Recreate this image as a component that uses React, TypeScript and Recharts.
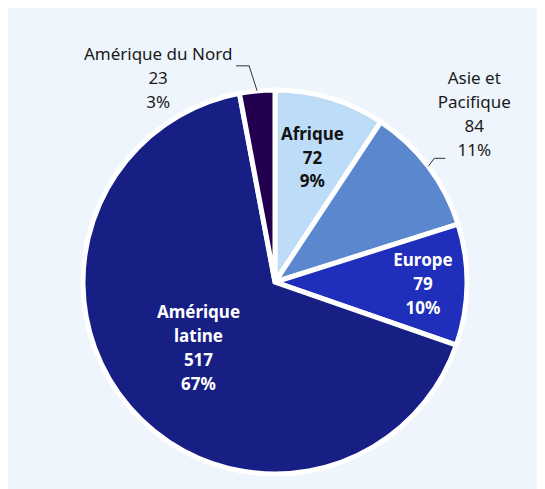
import React from 'react';
import { PieChart, Pie, Cell } from 'recharts';

// Répartition par région
const regions = ['Afrique', 'Asie et Pacifique', 'Europe', 'Amérique latine', 'Amérique du Nord'];
const counts = [72, 84, 79, 517, 23];
const labelLines = [['Afrique'], ['Asie et', 'Pacifique'], ['Europe'], ['Amérique', 'latine'], ['Amérique du Nord']];

const sliceColors = ['#bddcf7', '#5a87cd', '#1f2ebb', '#171f84', '#22004f'];

// how each label is placed: inside at a radius, or outside with a leader line
const labelLayout: any[] = [
  { inside: true, r: 130, color: '#111111' },
  { inside: false, elbow: [6, -8], run: 11, textDx: 29, textDy: -74 },
  { inside: true, r: 148, color: '#ffffff' },
  { inside: true, r: 101, color: '#ffffff' },
  { inside: false, elbow: [-8, -25], run: -13, textDx: -78, textDy: -5.5 },
];

const data = regions.map((name, i) => ({ name, value: counts[i] }));

const FONT = 17;
const LH = 23.8;
const RAD = Math.PI / 180;

const renderLabel = (props: any) => {
  const { cx, cy, midAngle, outerRadius, percent, index, value } = props;
  const cos = Math.cos(-midAngle * RAD);
  const sin = Math.sin(-midAngle * RAD);
  const lines = [...labelLines[index], String(value), `${Math.round(percent * 100)}%`];
  const cfg = labelLayout[index];

  if (cfg.inside) {
    const x = cx + cfg.r * cos;
    const y = cy + cfg.r * sin;
    const top = y - ((lines.length - 1) / 2) * LH + FONT * 0.36;
    return (
      <text textAnchor="middle" fill={cfg.color} fontWeight={700} fontSize={FONT}>
        {lines.map((t, i) => (
          <tspan key={i} x={x} y={top + i * LH}>{t}</tspan>
        ))}
      </text>
    );
  }

  const x1 = cx + outerRadius * cos;
  const y1 = cy + outerRadius * sin;
  const x2 = x1 + cfg.elbow[0];
  const y2 = y1 + cfg.elbow[1];
  const x3 = x2 + cfg.run;
  const tx = x3 + cfg.textDx;
  const ty = y2 + cfg.textDy;
  return (
    <g>
      <polyline points={`${x1},${y1} ${x2},${y2} ${x3},${y2}`} fill="none" stroke="#333333" strokeWidth={1} />
      <text textAnchor="middle" fill="#1a1a1a" fontSize={FONT}>
        {lines.map((t, i) => (
          <tspan key={i} x={tx} y={ty + i * LH}>{t}</tspan>
        ))}
      </text>
    </g>
  );
};

export default function App() {
  return (
    <div style={{ width: 537, height: 481, background: '#eef5fc', fontFamily: '"Noto Sans", sans-serif' }}>
      <PieChart width={537} height={481} margin={{ top: 0, right: 0, bottom: 0, left: 0 }}>
        <Pie
          data={data}
          dataKey="value"
          nameKey="name"
          cx={267}
          cy={274}
          outerRadius={192}
          startAngle={90}
          endAngle={-270}
          stroke="#ffffff"
          strokeWidth={5}
          label={renderLabel}
          labelLine={false}
          isAnimationActive={false}
        >
          {data.map((d, i) => (
            <Cell key={d.name} fill={sliceColors[i]} />
          ))}
        </Pie>
      </PieChart>
    </div>
  );
}
